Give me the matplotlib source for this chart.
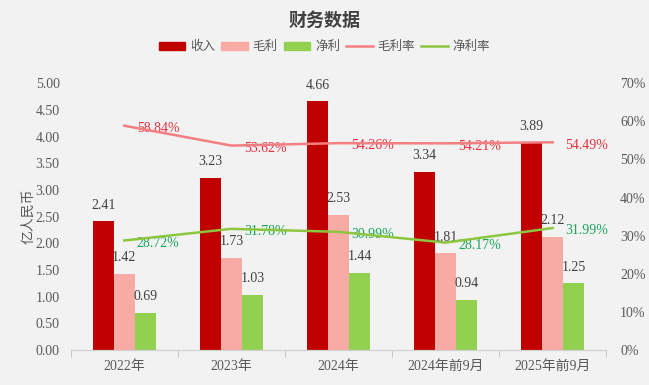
import matplotlib

matplotlib.use("Agg")
import matplotlib.pyplot as plt
import numpy as np
from matplotlib.lines import Line2D
from matplotlib.patches import Patch

plt.rcParams["font.family"] = ["Liberation Serif", "Noto Sans CJK SC"]

categories = ["2022年", "2023年", "2024年", "2024年前9月", "2025年前9月"]
revenue = [2.41, 3.23, 4.66, 3.34, 3.89]
gross_profit = [1.42, 1.73, 2.53, 1.81, 2.12]
net_profit = [0.69, 1.03, 1.44, 0.94, 1.25]
gross_margin = [58.84, 53.62, 54.26, 54.21, 54.49]
net_margin = [28.72, 31.78, 30.99, 28.17, 31.99]

c_rev = "#c00000"
c_gp = "#f8aaa4"
c_np = "#92d050"
c_gm_line = "#f47f82"
c_nm_line = "#8cc63f"
c_gm_text = "#e8303f"
c_nm_text = "#19a55a"
c_tick = "#595959"
bg = "#f2f2f2"

fig = plt.figure(figsize=(6.49, 3.85), dpi=100, facecolor=bg)
ax = fig.add_axes([0.109, 0.091, 0.825, 0.693], facecolor=bg)
ax2 = ax.twinx()

x = np.arange(len(categories))
w = 0.196
bars = [
    (revenue, c_rev, -w),
    (gross_profit, c_gp, 0),
    (net_profit, c_np, w),
]
for vals, col, off in bars:
    ax.bar(x + off, vals, width=w, color=col, zorder=2)
    for xi, v in zip(x, vals):
        ax.annotate(f"{v:.2f}", (xi + off, v), xytext=(0, 7), textcoords="offset points",
                    ha="center", va="bottom", fontsize=10, color="#404040", zorder=3)

ax.set_xlim(-0.5, 4.5)
ax.set_ylim(0, 5)
ax.set_yticks(np.arange(0, 5.01, 0.5))
ax.set_yticklabels([f"{v:.2f}" for v in np.arange(0, 5.01, 0.5)])
ax.set_xticks(x)
ax.set_xticklabels(categories)
ax.set_xticks(np.arange(-0.5, 4.6, 1), minor=True)
ax.tick_params(axis="x", which="major", length=0, pad=7, labelsize=10, labelcolor=c_tick)
ax.tick_params(axis="x", which="minor", length=5, color="#bfbfbf", direction="out")
ax.tick_params(axis="y", length=0, pad=8, labelsize=10, labelcolor=c_tick)
ax.set_ylabel("亿人民币", fontsize=10, color=c_tick, labelpad=0)

ax2.plot(x, gross_margin, color=c_gm_line, lw=1.8, zorder=4)
ax2.plot(x, net_margin, color=c_nm_line, lw=1.8, zorder=4)
for xi, v in zip(x, gross_margin):
    ax2.annotate(f"{v:.2f}%", (xi, v), xytext=(9, -2), textcoords="offset points",
                 ha="left", va="center", fontsize=10, color=c_gm_text)
for xi, v in zip(x, net_margin):
    ax2.annotate(f"{v:.2f}%", (xi, v), xytext=(9, -2), textcoords="offset points",
                 ha="left", va="center", fontsize=10, color=c_nm_text)
ax2.set_ylim(0, 70)
ax2.set_yticks(np.arange(0, 71, 10))
ax2.set_yticklabels([f"{v}%" for v in range(0, 71, 10)])
ax2.tick_params(axis="y", length=0, pad=10, labelsize=10, labelcolor=c_tick)

for a in (ax, ax2):
    for s in ("top", "left", "right"):
        a.spines[s].set_visible(False)
    a.spines["bottom"].set_color("#d0d0d0")

fig.text(0.5, 0.945, "财务数据", ha="center", va="center", fontsize=13,
         fontweight="bold", color="#404040")

handles = [
    Patch(color=c_rev), Patch(color=c_gp), Patch(color=c_np),
    Line2D([], [], color=c_gm_line, lw=1.8), Line2D([], [], color=c_nm_line, lw=1.8),
]
fig.legend(handles, ["收入", "毛利", "净利", "毛利率", "净利率"], loc="center",
           bbox_to_anchor=(0.5, 0.877), ncol=5, frameon=False, fontsize=9,
           handlelength=2.1, handleheight=0.7, columnspacing=0.5, handletextpad=0.4,
           labelcolor=c_tick)

fig.savefig("out.png", dpi=100, facecolor=bg)
